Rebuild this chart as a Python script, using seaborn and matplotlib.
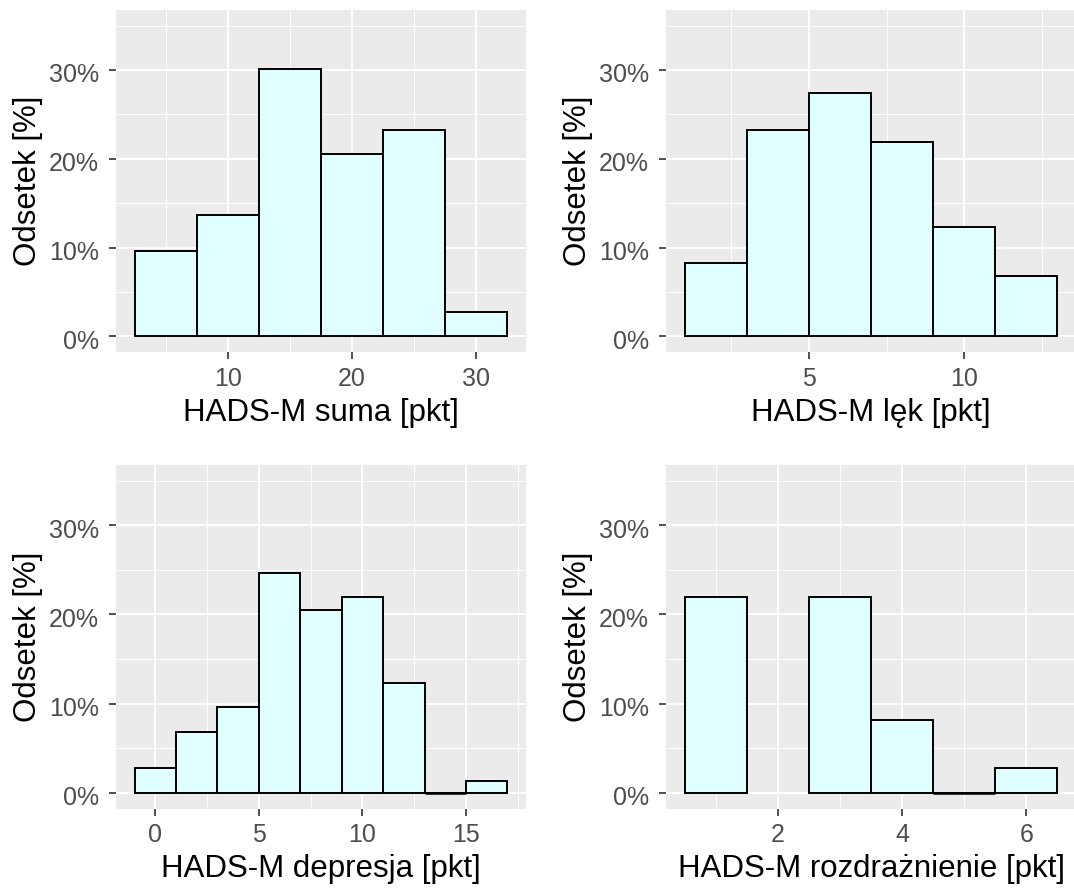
import numpy as np
import pandas as pd
import matplotlib
matplotlib.use("Agg")
import matplotlib.pyplot as plt
import matplotlib.transforms as mtransforms
from matplotlib.ticker import FixedLocator, FuncFormatter
import seaborn as sns

# Number of respondents (denominator for the percentages)
N_RESP = 73

# Bin centres and respondent counts for each HADS-M scale
suma_centers = [5, 10, 15, 20, 25, 30]
suma_counts = [7, 10, 22, 15, 17, 2]

lek_centers = [2, 4, 6, 8, 10, 12]
lek_counts = [6, 17, 20, 16, 9, 5]

dep_centers = [0, 2, 4, 6, 8, 10, 12, 14, 16]
dep_counts = [2, 5, 7, 18, 15, 16, 9, 0, 1]

roz_centers = [1, 3, 4, 5, 6]
roz_counts = [16, 16, 6, 0, 2]

x_titles = [
    "HADS-M suma [pkt]",
    "HADS-M lęk [pkt]",
    "HADS-M depresja [pkt]",
    "HADS-M rozdrażnienie [pkt]",
]
y_title = "Odsetek [%]"

y_major = [0.0, 0.1, 0.2, 0.3]
y_minor = [0.05, 0.15, 0.25, 0.35]

sns.set_theme(style="darkgrid")
plt.rcParams["font.family"] = ["Liberation Sans", "DejaVu Sans"]

W, H = 1074, 894
fig = plt.figure(figsize=(W / 100, H / 100), dpi=100, facecolor="white")


def rect_px(left, top, right, bottom):
    return [left / W, 1 - bottom / H, (right - left) / W, (bottom - top) / H]


panels = [
    dict(centers=suma_centers, counts=suma_counts, width=5,
         major=[10, 20, 30], minor=[5, 15, 25],
         rect=rect_px(116, 10, 526, 352)),
    dict(centers=lek_centers, counts=lek_counts, width=2,
         major=[5, 10], minor=[2.5, 7.5, 12.5],
         rect=rect_px(666, 10, 1076, 352)),
    dict(centers=dep_centers, counts=dep_counts, width=2,
         major=[0, 5, 10, 15], minor=[2.5, 7.5, 12.5, 17.5],
         rect=rect_px(116, 465, 526, 808.5)),
    dict(centers=roz_centers, counts=roz_counts, width=1,
         major=[2, 4, 6], minor=[1, 3, 5],
         rect=rect_px(666, 465, 1076, 808.5)),
]

pct_fmt = FuncFormatter(lambda v, _: f"{v * 100:.0f}%")
bar_fill = "#E0FFFF"
bar_edge = "black"
bar_lw = 1.4

for cfg, xt in zip(panels, x_titles):
    ax = fig.add_axes(cfg["rect"])
    centers = [float(c) for c in cfg["centers"]]
    shares = [c / N_RESP for c in cfg["counts"]]
    df = pd.DataFrame({"score": centers, "share": shares})
    w = float(cfg["width"])
    lo, hi = min(centers) - w / 2, max(centers) + w / 2

    sns.histplot(data=df, x="score", weights="share",
                 binwidth=w, binrange=(lo, hi), ax=ax,
                 color=bar_fill, edgecolor=bar_edge, linewidth=bar_lw,
                 alpha=1, legend=False)

    # drop bins that hold no category of this scale
    for p in list(ax.patches):
        c = p.get_x() + p.get_width() / 2
        if not np.any(np.isclose(centers, c)):
            p.remove()

    # empty categories are outlined as a flat line on the baseline
    for c, s in zip(centers, shares):
        if s == 0:
            ax.hlines(0, c - w / 2, c + w / 2, color=bar_edge,
                      linewidth=bar_lw * 1.3, zorder=3)

    span = hi - lo
    ax.set_xlim(lo - 0.05 * span, hi + 0.05 * span)
    ax.set_ylim(-0.0175, 0.3675)

    ax.set_facecolor("#EBEBEB")
    for s in ax.spines.values():
        s.set_visible(False)

    ax.xaxis.set_major_locator(FixedLocator(cfg["major"]))
    ax.xaxis.set_minor_locator(FixedLocator(cfg["minor"]))
    ax.yaxis.set_major_locator(FixedLocator(y_major))
    ax.yaxis.set_minor_locator(FixedLocator(y_minor))
    ax.yaxis.set_major_formatter(pct_fmt)
    ax.xaxis.set_major_formatter(FuncFormatter(lambda v, _: f"{v:g}"))

    ax.grid(which="major", color="white", linewidth=1.5)
    ax.grid(which="minor", color="white", linewidth=0.75)
    ax.set_axisbelow(True)

    ax.tick_params(which="major", length=5.2, width=1.2, color="#333333",
                   labelcolor="#4D4D4D", labelsize=18, bottom=True, left=True)
    ax.tick_params(axis="x", which="major", pad=5.5)
    ax.tick_params(axis="y", which="major", pad=7.2)
    ax.tick_params(which="minor", length=0, bottom=False, left=False)

    shift = mtransforms.ScaledTranslation(0, -3 / 100, fig.dpi_scale_trans)
    for lab in ax.get_yticklabels():
        lab.set_transform(lab.get_transform() + shift)

    ax.set_xlabel(xt, fontsize=22.5, color="black", labelpad=5)
    ax.set_ylabel(y_title, fontsize=22.5, color="black", labelpad=4)

fig.savefig("out.png", dpi=100, facecolor="white")
